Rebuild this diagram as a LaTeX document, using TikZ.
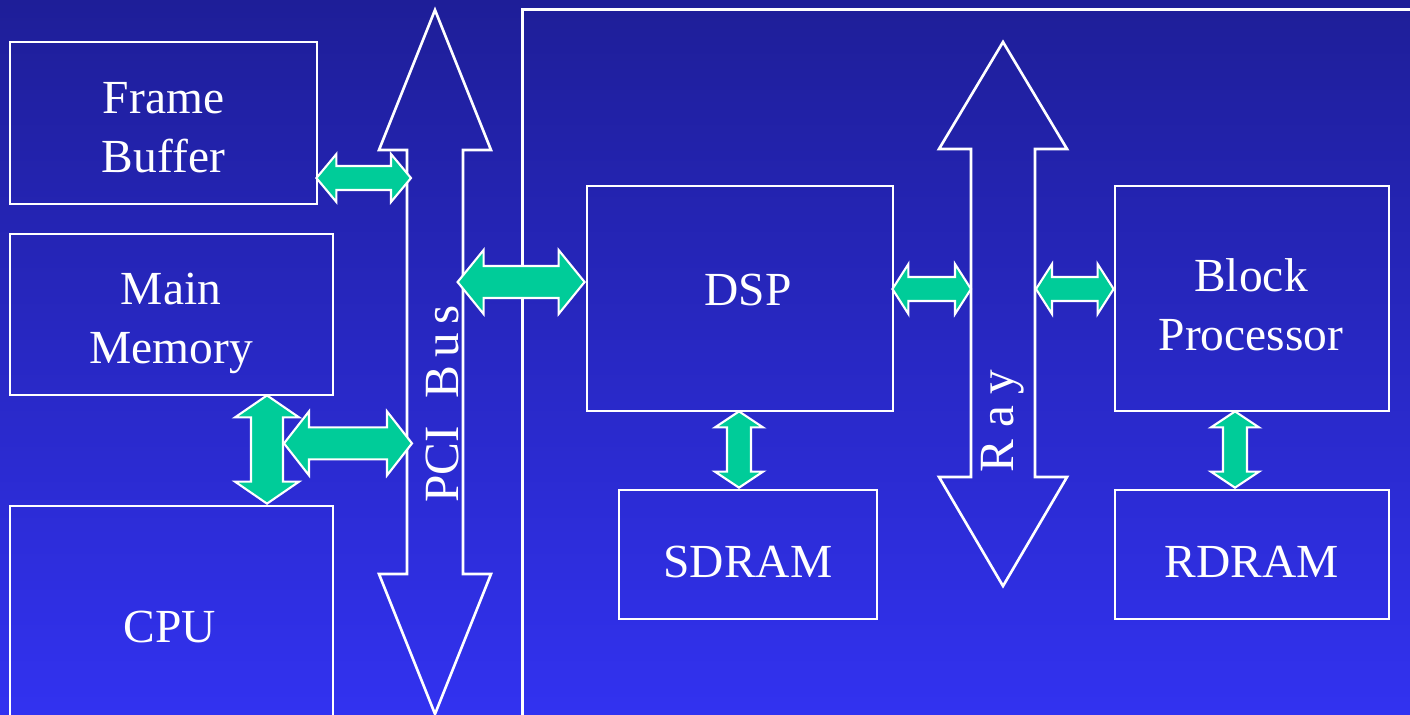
\documentclass[tikz,border=0pt]{standalone}
\usepackage{fontspec}
\setmainfont{Liberation Serif}
\usetikzlibrary{calc}
\definecolor{bgtop}{RGB}{30,30,152}
\definecolor{bgbot}{RGB}{50,50,240}
\definecolor{grn}{RGB}{0,204,153}
\tikzset{
  wline/.style={draw=white, line width=0.75pt},
  box/.style={wline, rectangle, inner sep=0pt, fill=none},
  garrow/.style={fill=grn, draw=white, line width=0.6pt, line join=miter},
  txt/.style={text=white, inner sep=0pt, font=\fontsize{13.5}{16.8}\selectfont, align=center},
  rtxt/.style={text=white, inner sep=0pt, font=\fontsize{14}{16}\selectfont, rotate=90, anchor=base},
}
% horizontal double arrow: #1 left tip, #2 right tip, #3 head length, #4 head half height, #5 shaft half height
\newcommand\hdarr[5]{%
  \draw[garrow] (#1) -- ($(#1)+(#3,-#4)$) -- ($(#1)+(#3,-#5)$) -- ($(#2)+(-#3,-#5)$) -- ($(#2)+(-#3,-#4)$)
    -- (#2) -- ($(#2)+(-#3,#4)$) -- ($(#2)+(-#3,#5)$) -- ($(#1)+(#3,#5)$) -- ($(#1)+(#3,#4)$) -- cycle;}
% vertical double arrow: #1 top tip, #2 bottom tip
\newcommand\vdarr[5]{%
  \draw[garrow] (#1) -- ($(#1)+(#4,#3)$) -- ($(#1)+(#5,#3)$) -- ($(#2)+(#5,-#3)$) -- ($(#2)+(#4,-#3)$)
    -- (#2) -- ($(#2)+(-#4,-#3)$) -- ($(#2)+(-#5,-#3)$) -- ($(#1)+(-#5,#3)$) -- ($(#1)+(-#4,#3)$) -- cycle;}
\begin{document}
\begin{tikzpicture}[x=0.01cm, y=-0.01cm]
\shade[top color=bgtop, bottom color=bgbot] (0,0) rectangle (1410,714);
\useasboundingbox (0,0) rectangle (1410,714);
\clip (0,0) rectangle (1410,714);

% boxes
\node[box, minimum width=3.07cm, minimum height=1.62cm] (fb) at (163.5,123) {};
\node[box, minimum width=3.23cm, minimum height=1.61cm] (mm) at (171.5,314.5) {};
\node[box, minimum width=3.23cm, minimum height=2.24cm] (cpu) at (171.5,618) {};
\node[box, minimum width=9.07cm, minimum height=7.20cm] (card) at (976.5,370) {};
\node[box, minimum width=3.06cm, minimum height=2.25cm] (dsp) at (740,298.5) {};
\node[box, minimum width=2.58cm, minimum height=1.29cm] (sdram) at (748,554.5) {};
\node[box, minimum width=2.74cm, minimum height=2.25cm] (bp) at (1252,298.5) {};
\node[box, minimum width=2.74cm, minimum height=1.29cm] (rdram) at (1252,554.5) {};

% PCI bus
\draw[wline, line join=miter] (435,10) -- (491,150) -- (463,150) -- (463,574) -- (491,574) -- (435,714)
  -- (379,574) -- (407,574) -- (407,150) -- (379,150) -- cycle;
\coordinate (pciW) at (407,400);
\coordinate (pciE) at (463,400);
\node[rtxt] (pcitext) at (458,404) {PCI\hspace{8pt}B\kern2.3pt u\kern2.3pt s};

% Ray bus
\draw[wline, line join=miter] (1003,42) -- (1067,149) -- (1035,149) -- (1035,477) -- (1067,477) -- (1003,586)
  -- (939,477) -- (971,477) -- (971,149) -- (939,149) -- cycle;
\coordinate (rayW) at (971,300);
\coordinate (rayE) at (1035,300);
\node[rtxt] (raytext) at (1013,421) {R\kern3.3pt a\kern3.3pt y};

% texts
\node[txt] (fbt) at (163.5,127.5) {Frame\\Buffer};
\node[txt] (mmt) at (171,323) {Main\\Memory};
\node[txt] (bpt) at (1251,305) {Block\\Processor};
\node[txt, anchor=base] (dspt) at (748,305) {DSP};
\node[txt, anchor=base] (sdt) at (748,577) {SDRAM};
\node[txt, anchor=base] (rdt) at (1252,577) {RDRAM};
\node[txt, anchor=base] (cput) at (170,642) {CPU};

% connector end points
\coordinate (a1s) at ($(fb.east)+(-2,55)$);
\coordinate (a1e) at ($(a1s -| pciW)+(4,0)$);
\coordinate (a4s) at ($(mm.south)+(95.5,-1)$);
\coordinate (a4e) at ($(a4s |- cpu.north)+(0,-1)$);
\coordinate (a2s) at ($(a4s)+(17,48)$);
\coordinate (a2e) at ($(a2s -| pciW)+(5,0)$);
\coordinate (a3s) at ($(dsp.west)+(-128,-16.5)$);
\coordinate (a3e) at ($(dsp.west)+(-1,-16.5)$);
\coordinate (a5s) at ($(dsp.east)+(-2,-9.5)$);
\coordinate (a5e) at (a5s -| rayW);
\coordinate (a6s) at ($(a5s -| rayE)+(1,0)$);
\coordinate (a6e) at (a5s -| bp.west);
\coordinate (a7s) at ($(dsp.south)+(-1,-1)$);
\coordinate (a7e) at ($(a7s |- sdram.north)+(0,-1)$);
\coordinate (a8s) at ($(bp.south)+(-17,-1)$);
\coordinate (a8e) at ($(a8s |- rdram.north)+(0,-1)$);

% green connectors
\hdarr{a1s}{a1e}{20}{24}{12}
\vdarr{a4s}{a4e}{22}{32}{16}
\hdarr{a2s}{a2e}{25}{32}{16}
\hdarr{a3s}{a3e}{26}{32}{16}
\hdarr{a5s}{a5e}{16}{25}{12}
\hdarr{a6s}{a6e}{16}{25}{12}
\vdarr{a7s}{a7e}{16}{24}{12}
\vdarr{a8s}{a8e}{16}{24}{12}
\end{tikzpicture}
\end{document}
